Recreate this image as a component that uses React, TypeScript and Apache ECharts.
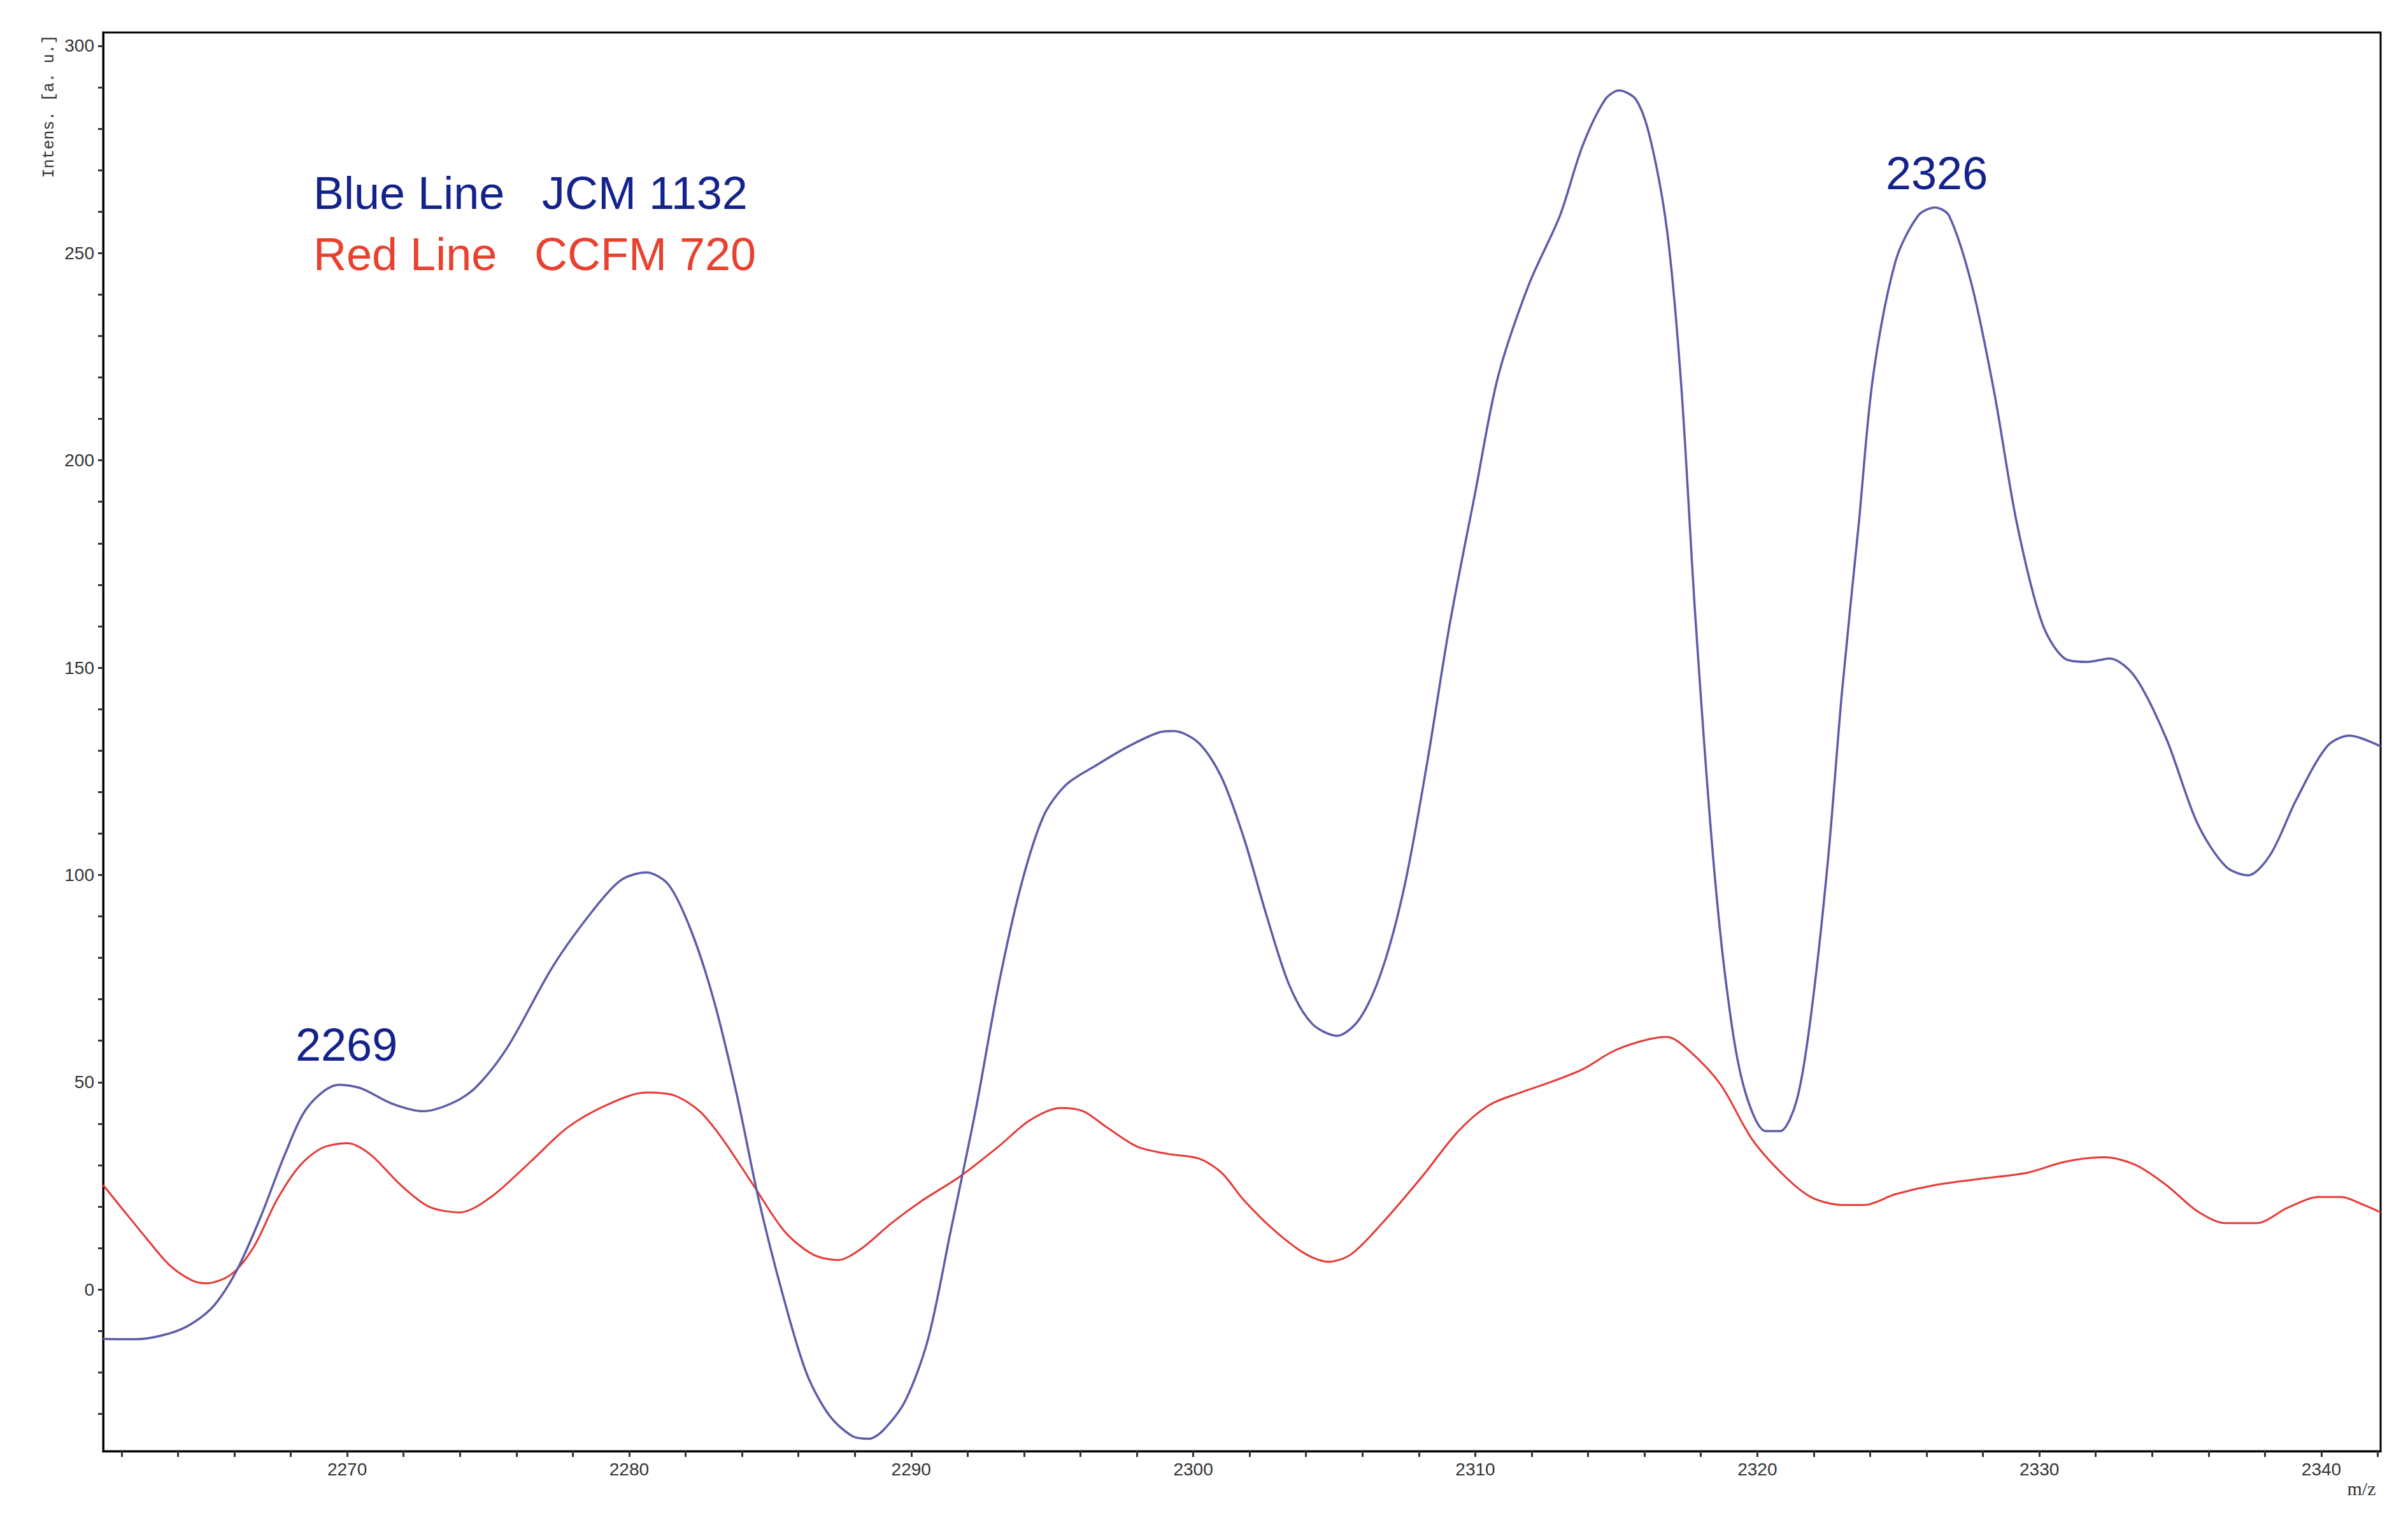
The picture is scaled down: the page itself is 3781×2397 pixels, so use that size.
import React, { useEffect, useRef } from "react";
import * as echarts from "echarts";

const blueMz = [
  2261.35, 2262.5, 2263.7, 2264.5, 2265.3, 2266.1, 2266.95, 2267.8, 2268.6, 2269.7,
  2270.5, 2271.6, 2272.7, 2273.8, 2274.6, 2275.7, 2277.3, 2278.7, 2279.7, 2280.6,
  2281.4, 2282.2, 2283.0, 2283.8, 2284.6, 2285.5, 2286.3, 2287.1, 2287.9, 2288.5,
  2289.0, 2289.8, 2290.6, 2291.4, 2292.3, 2293.1, 2293.9, 2294.7, 2295.5, 2296.6,
  2297.7, 2298.8, 2299.3, 2300.2, 2301.0, 2301.8, 2302.6, 2303.4, 2304.2, 2305.1,
  2305.9, 2306.7, 2307.5, 2308.3, 2309.1, 2310.0, 2310.8, 2311.9, 2313.0, 2313.8,
  2314.6, 2315.1, 2315.7, 2316.2, 2316.8, 2317.3, 2317.8, 2318.4, 2318.9, 2319.5,
  2320.3, 2320.8, 2321.4, 2321.9, 2322.5, 2323.0, 2323.6, 2324.1, 2324.9, 2325.7,
  2326.3, 2326.8, 2327.6, 2328.4, 2329.2, 2330.1, 2330.9, 2331.7, 2332.5, 2333.4,
  2334.5, 2335.6, 2336.6, 2337.4, 2338.2, 2339.1, 2340.2, 2341.0, 2342.1,
];
const blueIntensity = [
  -11.9, -12.0, -10.6, -8.2, -3.7, 4.8, 17.8, 32.7, 44.0, 49.4,
  48.5, 44.8, 43.0, 45.2, 49.0, 58.6, 78, 91.3, 98.7, 100.6,
  97.6, 86.5, 69.8, 47.5, 21.5, -2.6, -20.4, -30.4, -35.3, -36,
  -34, -26.7, -11.9, 14.1, 43.8, 73.5, 97.6, 114.3, 121.8, 126.6,
  131, 134.4, 134.7, 131.8, 123.6, 108.8, 90.2, 73.5, 64.2, 61.2,
  65.3, 77.2, 97.6, 127.3, 160.7, 192.3, 220, 242.4, 259, 275.8,
  287, 289.2, 287, 277.7, 255.4, 218.3, 162.6, 106.9, 73.5, 49.4,
  38.2, 38.2, 45.7, 66, 103.2, 144, 184.9, 220, 248, 259,
  261, 259, 242.4, 216.4, 184.9, 160.7, 152.2, 151.4, 152.2, 147.7,
  132.9, 112.5, 102.1, 99.9, 105, 118, 131, 133.6, 131,
];

const redMz = [
  2261.35, 2262.0, 2262.9, 2263.7, 2264.5, 2265.0, 2265.9, 2266.7, 2267.5, 2268.3,
  2269.1, 2270.0, 2270.8, 2271.9, 2272.9, 2274.0, 2275.1, 2276.5, 2277.8, 2279.2,
  2280.6, 2281.6, 2282.5, 2283.3, 2284.4, 2285.5, 2286.5, 2287.4, 2288.2, 2289.3,
  2290.4, 2291.7, 2293.1, 2294.2, 2295.3, 2296.1, 2296.9, 2298.0, 2299.1, 2300.2,
  2301.0, 2301.8, 2302.9, 2304.0, 2304.8, 2305.6, 2306.7, 2308.1, 2309.4, 2310.5,
  2311.6, 2312.7, 2313.8, 2314.9, 2316.0, 2316.8, 2317.6, 2318.7, 2319.8, 2320.9,
  2321.9, 2323.0, 2323.8, 2324.9, 2326.3, 2327.9, 2329.6, 2330.9, 2332.3, 2333.4,
  2334.5, 2335.6, 2336.6, 2337.7, 2338.8, 2339.9, 2340.7, 2341.5, 2342.1,
];
const redIntensity = [
  25.2, 19.7, 12.2, 5.9, 2.2, 1.5, 3.7, 10.4, 21.5, 29.7,
  34.1, 35.3, 32.7, 25.2, 20, 18.6, 22.3, 30.8, 39, 44.5,
  47.5, 46.8, 43, 36.4, 25.2, 14.1, 8.5, 7.1, 9.7, 16,
  21.5, 27.1, 34.5, 40.8, 43.8, 43, 39.3, 34.5, 32.7, 31.6,
  28.2, 21.5, 14.1, 8.5, 6.7, 8.5, 16, 27.1, 38.2, 44.5,
  47.5, 50.1, 53.1, 57.5, 60.1, 60.9, 57.5, 49.4, 36.4, 27.8,
  22.3, 20.4, 20.4, 23, 25.2, 26.7, 28.2, 30.8, 31.9, 30.1,
  25.2, 18.9, 16, 16, 19.7, 22.3, 22.3, 20.4, 18.6,
];

const xTickLabels = [2270, 2280, 2290, 2300, 2310, 2320, 2330, 2340];
const xMinorTicks = [
  2262, 2264, 2266, 2268, 2270, 2272, 2274, 2276, 2278, 2280, 2282, 2284, 2286, 2288,
  2290, 2292, 2294, 2296, 2298, 2300, 2302, 2304, 2306, 2308, 2310, 2312, 2314, 2316,
  2318, 2320, 2322, 2324, 2326, 2328, 2330, 2332, 2334, 2336, 2338, 2340, 2342,
];
const yTickLabels = [0, 50, 100, 150, 200, 250, 300];
const yMinorTicks = [
  -30, -20, -10, 0, 10, 20, 30, 40, 50, 60, 70, 80, 90, 100, 110, 120, 130, 140, 150,
  160, 170, 180, 190, 200, 210, 220, 230, 240, 250, 260, 270, 280, 290, 300,
];

const legendBlue = ["Blue Line", "JCM 1132"];
const legendRed = ["Red Line", "CCFM 720"];
const peakLabels = ["2269", "2326"];

const BLUE_TEXT = "#14238c";
const RED_TEXT = "#e8412f";

export default function App() {
  const ref = useRef<HTMLDivElement>(null);
  useEffect(() => {
    document.body.style.margin = "0";
    const chart = echarts.init(ref.current as HTMLDivElement, null, { renderer: "svg" });
    const tickStyle = { color: "#333", width: 3 };
    const bigText = (text: string, x: number, y: number, fill: string) => ({
      type: "text",
      x,
      y,
      silent: true,
      style: {
        text,
        fill,
        fontFamily: "Liberation Sans",
        fontSize: 72,
        align: "left",
        verticalAlign: "middle",
      },
    });
    chart.setOption({
      animation: false,
      backgroundColor: "#ffffff",
      grid: {
        left: 162,
        right: 43,
        top: 51,
        bottom: 119,
        show: true,
        borderColor: "#000",
        borderWidth: 3,
        backgroundColor: "transparent",
        outerBoundsMode: "none",
      },
      xAxis: {
        type: "value",
        min: 2261.35,
        max: 2342.1,
        axisLine: { show: true, onZero: false, lineStyle: { color: "#000", width: 3 } },
        splitLine: { show: false },
        axisTick: {
          show: true,
          inside: false,
          length: 9,
          customValues: xMinorTicks,
          lineStyle: tickStyle,
        },
        axisLabel: {
          customValues: xTickLabels,
          formatter: (v: number) => String(v),
          fontFamily: "Liberation Sans",
          fontSize: 28,
          color: "#333",
          margin: 14,
        },
      },
      yAxis: {
        type: "value",
        min: -39,
        max: 303.2,
        axisLine: { show: true, onZero: false, lineStyle: { color: "#000", width: 3 } },
        splitLine: { show: false },
        axisTick: {
          show: true,
          inside: false,
          length: 8,
          customValues: yMinorTicks,
          lineStyle: tickStyle,
        },
        axisLabel: {
          customValues: yTickLabels,
          formatter: (v: number) => String(v),
          fontFamily: "Liberation Sans",
          fontSize: 28,
          color: "#333",
          margin: 14,
        },
      },
      series: [
        {
          name: "CCFM 720",
          type: "line",
          data: redMz.map((m, i) => [m, redIntensity[i]]),
          showSymbol: false,
          symbol: "none",
          smooth: 0.3,
          lineStyle: { color: "#e63a36", width: 3 },
          z: 2,
        },
        {
          name: "JCM 1132",
          type: "line",
          data: blueMz.map((m, i) => [m, blueIntensity[i]]),
          showSymbol: false,
          symbol: "none",
          smooth: 0.3,
          lineStyle: { color: "#5c5ca8", width: 3.5 },
          z: 3,
        },
      ],
      graphic: [
        bigText(legendBlue[0], 492, 303, BLUE_TEXT),
        bigText(legendBlue[1], 851, 303, BLUE_TEXT),
        bigText(legendRed[0], 492, 399, RED_TEXT),
        bigText(legendRed[1], 839, 399, RED_TEXT),
        bigText(peakLabels[0], 464, 1640, BLUE_TEXT),
        bigText(peakLabels[1], 2961, 272, BLUE_TEXT),
        {
          type: "text",
          x: 77,
          y: 167,
          rotation: Math.PI / 2,
          silent: true,
          style: {
            text: "Intens. [a. u.]",
            fill: "#333",
            fontFamily: "Liberation Mono",
            fontSize: 25,
            align: "center",
            verticalAlign: "middle",
          },
        },
        {
          type: "text",
          x: 3708,
          y: 2336,
          silent: true,
          style: {
            text: "m/z",
            fill: "#333",
            fontFamily: "Liberation Serif",
            fontSize: 30,
            align: "center",
            verticalAlign: "middle",
          },
        },
      ],
    });
    return () => chart.dispose();
  }, []);
  return <div ref={ref} style={{ width: 3781, height: 2397 }} />;
}
